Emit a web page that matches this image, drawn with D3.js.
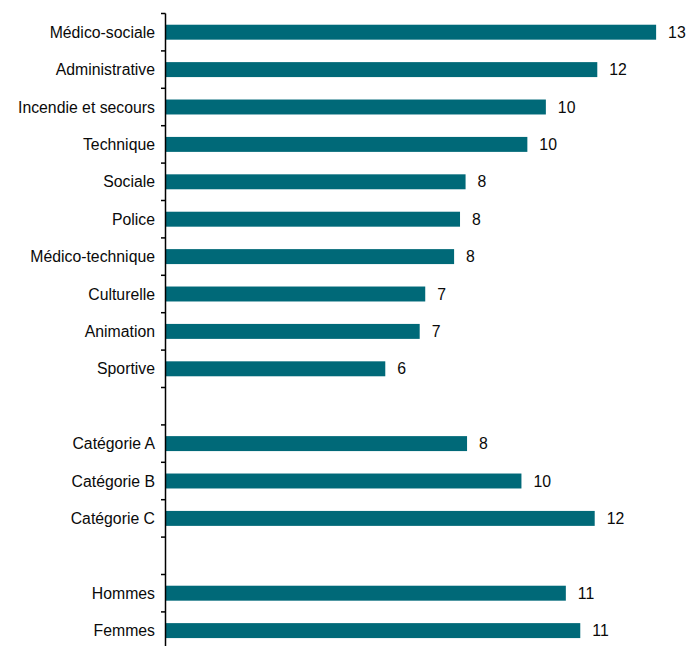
<!DOCTYPE html>
<html>
<head>
<meta charset="utf-8">
<script src="https://cdn.jsdelivr.net/npm/d3@7"></script>
<style>
  html, body { margin: 0; padding: 0; background: #fff; }
  svg { display: block; }
  text { font-family: "Liberation Sans", Arial, sans-serif; font-size: 15.8px; fill: #0a0a0a; }
</style>
</head>
<body>
<svg id="chart" width="689" height="646"></svg>
<script>
// Categories (empty strings are spacer rows between groups)
const categories = [
  "Médico-sociale", "Administrative", "Incendie et secours", "Technique", "Sociale",
  "Police", "Médico-technique", "Culturelle", "Animation", "Sportive",
  "", "Catégorie A", "Catégorie B", "Catégorie C", "",
  "Hommes", "Femmes"
];
// Series values (null for spacer rows)
const values = [
  13.26, 11.67, 10.28, 9.78, 8.11,
  7.96, 7.80, 7.02, 6.87, 5.94,
  null, 8.15, 9.62, 11.60, null,
  10.82, 11.21
];

const svg = d3.select("#chart");
const axisX = 165.5, plotTop = 13.5, rowStep = 37.4;
const keys = categories.map((c, i) => i);

const x = d3.scaleLinear().domain([0, 14]).range([axisX, axisX + 14 * 37]);
const y = d3.scaleBand()
  .domain(keys)
  .range([plotTop, plotTop + rowStep * categories.length])
  .paddingInner(0.6)
  .paddingOuter(0.3);

const data = categories.map((c, i) => ({ key: i, name: c, value: values[i] }))
  .filter(d => d.value !== null);

// bars
svg.append("g").selectAll("rect")
  .data(data).join("rect")
  .attr("x", x(0) + 0.5)
  .attr("y", d => y(d.key))
  .attr("width", d => x(d.value) - x(0) - 0.5)
  .attr("height", y.bandwidth())
  .attr("fill", "#006978");

// category labels
svg.append("g").selectAll("text")
  .data(data).join("text")
  .attr("x", axisX - 10.5)
  .attr("y", d => y(d.key) + y.bandwidth() / 2)
  .attr("dy", "0.36em")
  .attr("text-anchor", "end")
  .text(d => d.name);

// value labels
svg.append("g").selectAll("text")
  .data(data).join("text")
  .attr("x", d => x(d.value) + 12)
  .attr("y", d => y(d.key) + y.bandwidth() / 2)
  .attr("dy", "0.36em")
  .text(d => d3.format(".0f")(d.value));

// axis line with ticks at band boundaries
const tickYs = d3.range(categories.length + 1).map(i => plotTop + i * y.step());
const ag = svg.append("g");
ag.append("line")
  .attr("x1", axisX).attr("x2", axisX)
  .attr("y1", plotTop).attr("y2", plotTop + rowStep * categories.length)
  .attr("stroke", "#000").attr("stroke-width", 1.5);
ag.selectAll("line.tick").data(tickYs).join("line")
  .attr("class", "tick")
  .attr("x1", axisX - 4.5).attr("x2", axisX)
  .attr("y1", d => d).attr("y2", d => d)
  .attr("stroke", "#000").attr("stroke-width", 1.5);
</script>
</body>
</html>
